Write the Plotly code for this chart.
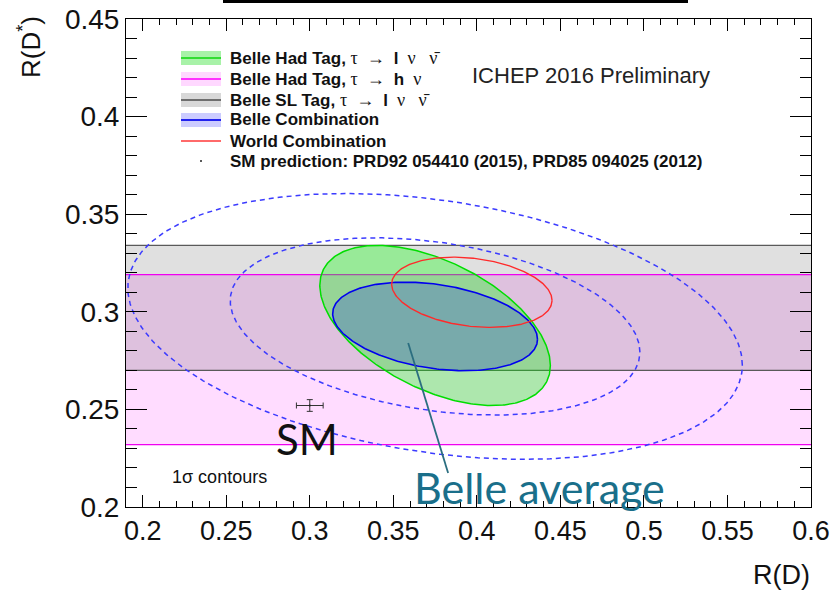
import numpy as np
import plotly.graph_objects as go

# ---------------- data ----------------
x_range = [0.19, 0.6]
y_range = [0.2, 0.45]
x_ticks = [0.2, 0.25, 0.3, 0.35, 0.4, 0.45, 0.5, 0.55, 0.6]
x_ticklabels = ["0.2", "0.25", "0.3", "0.35", "0.4", "0.45", "0.5", "0.55", "0.6"]
y_ticks = [0.2, 0.25, 0.3, 0.35, 0.4, 0.45]
y_ticklabels = ["0.2", "0.25", "0.3", "0.35", "0.4", "0.45"]

# R(D*) only measurements (bands): low, high
sl_tag_band = [0.270, 0.334]      # Belle SL Tag
had_h_band = [0.232, 0.319]       # Belle Had Tag, tau -> h nu

# 2D measurements: centre R(D), centre R(D*), sigma R(D), sigma R(D*), correlation
had_lep = [0.375, 0.293, 0.069, 0.041, -0.50]        # Belle Had Tag, tau -> l nu nu
belle_comb = [0.375, 0.2925, 0.0613, 0.0227, -0.29]  # Belle Combination
world_comb = [0.397, 0.310, 0.048, 0.018, -0.23]     # World Combination
comb_sigmas = [2, 3]                                 # dashed contours of Belle combination

# SM prediction
sm_point = [0.300, 0.252]
sm_err = [0.008, 0.003]

# pointer from the "Belle average" label to the Belle combination
pointer_rd = [0.3589, 0.3828]
pointer_rds = [0.284, 0.2174]


def ellipse(c, k=1.0, n=361):
    mx, my, sx, sy, rho = c
    t = np.linspace(0, 2 * np.pi, n)
    x = mx + k * sx * np.cos(t)
    y = my + k * sy * (rho * np.cos(t) + np.sqrt(1 - rho ** 2) * np.sin(t))
    return x, y


def rect(lo, hi):
    x0, x1 = x_range
    return [x0, x1, x1, x0, x0], [lo, lo, hi, hi, lo]


fig = go.Figure()

# bands
for band, col in [(sl_tag_band, "#e0e0e0"), (had_h_band, "#ffdcff")]:
    bx, by = rect(*band)
    fig.add_trace(go.Scatter(x=bx, y=by, fill="toself", fillcolor=col, mode="none", hoverinfo="skip"))
ov_lo = max(sl_tag_band[0], had_h_band[0])
ov_hi = min(sl_tag_band[1], had_h_band[1])
bx, by = rect(ov_lo, ov_hi)
fig.add_trace(go.Scatter(x=bx, y=by, fill="toself", fillcolor="#dec1de", mode="none", hoverinfo="skip"))
for v in sl_tag_band:
    fig.add_trace(go.Scatter(x=x_range, y=[v, v], mode="lines", line=dict(color="#5a5a5a", width=1.2)))
for v in had_h_band:
    fig.add_trace(go.Scatter(x=x_range, y=[v, v], mode="lines", line=dict(color="#f000f0", width=1.2)))

# ellipses
ex, ey = ellipse(had_lep)
fig.add_trace(go.Scatter(x=ex, y=ey, fill="toself", fillcolor="rgba(0,255,0,0.32)",
                         mode="lines", line=dict(color="#00dd00", width=1.5)))
ex, ey = ellipse(belle_comb)
fig.add_trace(go.Scatter(x=ex, y=ey, fill="toself", fillcolor="rgba(0,0,255,0.2)",
                         mode="lines", line=dict(color="#0000ee", width=1.6)))
ex, ey = ellipse(world_comb)
fig.add_trace(go.Scatter(x=ex, y=ey, mode="lines", line=dict(color="#ff2a2a", width=1.4)))
for k in comb_sigmas:
    ex, ey = ellipse(belle_comb, k)
    fig.add_trace(go.Scatter(x=ex, y=ey, mode="lines",
                             line=dict(color="#3b3bff", width=1.5, dash="5px,4px")))

# SM point
fig.add_trace(go.Scatter(x=[sm_point[0]], y=[sm_point[1]], mode="markers",
                         marker=dict(size=2, color="#222"),
                         error_x=dict(type="data", array=[sm_err[0]], color="#333", thickness=1, width=3),
                         error_y=dict(type="data", array=[sm_err[1]], color="#333", thickness=1, width=3)))

# ---------------- layout helpers ----------------
L, R, T, B = 126, 811, 19, 507
W, H = 831, 591


def px(xp):
    return (xp - L) / (R - L)


def py(yp):
    return (B - yp) / (B - T)


shapes = []
annotations = []

# pointer line
shapes.append(dict(type="line", xref="x", yref="y", x0=pointer_rd[0], y0=pointer_rds[0],
                   x1=pointer_rd[1], y1=pointer_rds[1], line=dict(color="#2b6e80", width=1.8)))

# black bar at the very top
shapes.append(dict(type="rect", xref="paper", yref="paper", x0=px(223), x1=px(688),
                   y0=py(3), y1=py(0), fillcolor="black", line=dict(width=0)))

# legend
NB = "\u00a0"
greek = "font-family:Liberation Serif;font-weight:normal;font-size:18px"
lep = ("<span style='%s'>τ%s→%s</span><b>l</b><span style='%s'>%sν%s%sν̄</span>"
       % (greek, NB * 2, NB * 2, greek, NB * 2, NB * 2, NB))
had = ("<span style='%s'>τ%s→%s</span><b>h</b><span style='%s'>%sν</span>"
       % (greek, NB * 2, NB * 2, greek, NB * 2))
legend_items = [
    ("<b>Belle Had Tag, </b>" + lep, "#a8f2a8", "#33dd33"),
    ("<b>Belle Had Tag, </b>" + had, "#ffd8ff", "#ff33ff"),
    ("<b>Belle SL Tag, </b>" + lep, "#d8d8d8", "#6e6e6e"),
    ("<b>Belle Combination</b>", "#ccccff", "#2222ee"),
    ("<b>World Combination</b>", None, "#ff6a6a"),
    ("<b>SM prediction: PRD92 054410 (2015), PRD85 094025 (2012)</b>", "dot", "#222"),
]
rows = [58, 79, 100, 120, 141, 161]
for (txt, box, lc), yc in zip(legend_items, rows):
    if box == "dot":
        shapes.append(dict(type="circle", xref="paper", yref="paper", x0=px(200), x1=px(202),
                           y0=py(yc + 1), y1=py(yc - 1), fillcolor=lc, line=dict(width=0)))
    else:
        if box:
            shapes.append(dict(type="rect", xref="paper", yref="paper", x0=px(181), x1=px(221),
                               y0=py(yc + 7), y1=py(yc - 7), fillcolor=box, line=dict(width=0)))
        shapes.append(dict(type="line", xref="paper", yref="paper", x0=px(181), x1=px(221),
                           y0=py(yc), y1=py(yc), line=dict(color=lc, width=2)))
    annotations.append(dict(xref="paper", yref="paper", x=px(228), y=py(yc), xanchor="left",
                            yanchor="middle", text=txt, showarrow=False,
                            font=dict(family="Liberation Sans", size=17, color="#111")))

annotations += [
    dict(xref="paper", yref="paper", x=px(591), y=py(75), text="ICHEP 2016 Preliminary",
         showarrow=False, xanchor="center", yanchor="middle",
         font=dict(family="Liberation Sans", size=22, color="#222")),
    dict(xref="paper", yref="paper", x=px(170), y=py(477), text="1σ contours",
         showarrow=False, xanchor="left", yanchor="middle",
         font=dict(family="Liberation Sans", size=18, color="#111")),
    dict(xref="paper", yref="paper", x=px(307), y=py(439), text="SM",
         showarrow=False, xanchor="center", yanchor="middle",
         font=dict(family="Lato", size=42, color="#111")),
    dict(xref="paper", yref="paper", x=px(539), y=py(487), text="Belle average",
         showarrow=False, xanchor="center", yanchor="middle",
         font=dict(family="Lato", size=43, color="#1a6f8a")),
    dict(xref="paper", yref="paper", x=px(30), y=py(14), text="R(D<sup>*</sup>)",
         showarrow=False, xanchor="center", yanchor="top", textangle=-90,
         font=dict(family="Liberation Sans", size=26, color="#111")),
    dict(xref="paper", yref="paper", x=px(812), y=py(575), text="R(D)",
         showarrow=False, xanchor="right", yanchor="middle",
         font=dict(family="Liberation Sans", size=27, color="#111")),
]

axis_common = dict(showgrid=False, zeroline=False, showline=True, linecolor="black", linewidth=1,
                   ticks="inside", tickcolor="black", tickwidth=1, mirror="allticks",
                   automargin=False,
                   tickfont=dict(family="Liberation Sans", size=27, color="#111"))

fig.update_layout(
    width=W, height=H, margin=dict(l=L, r=W - R, t=T, b=H - B, autoexpand=False),
    plot_bgcolor="white", paper_bgcolor="white", showlegend=False,
    xaxis=dict(range=x_range, tickmode="array", tickvals=x_ticks, ticktext=x_ticklabels, ticklen=12,
               minor=dict(tickmode="linear", tick0=0.2, dtick=0.01, ticklen=6, ticks="inside",
                          tickcolor="black", tickwidth=1),
               **axis_common),
    yaxis=dict(range=y_range, tickmode="array", tickvals=y_ticks, ticktext=y_ticklabels, ticklen=21,
               minor=dict(tickmode="linear", tick0=0.2, dtick=0.01, ticklen=11, ticks="inside",
                          tickcolor="black", tickwidth=1),
               **axis_common),
    shapes=shapes, annotations=annotations,
)
fig.update_yaxes(tickfont_size=28)

fig.write_html("out.html")
